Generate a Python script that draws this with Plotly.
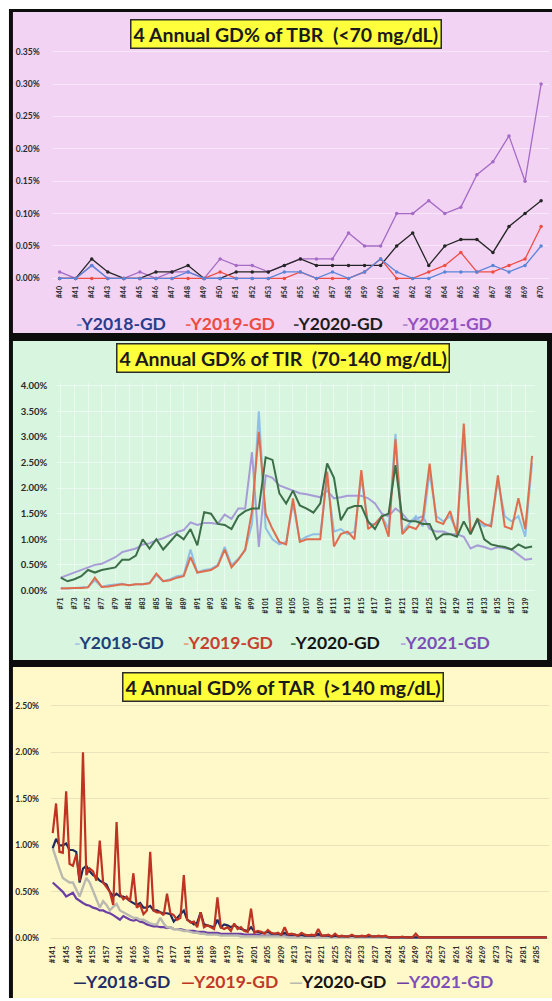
import plotly.graph_objects as go

W, H = 552, 1001
FONT = "Lato"

# ---------------- Panel 1: TBR (<70 mg/dL) ----------------
tbr_cats = ["#%d" % i for i in range(40, 71)]
tbr_2018 = [0.00, 0.00, 0.02, 0.00, 0.00, 0.00, 0.00, 0.00, 0.01, 0.00,
            0.00, 0.00, 0.00, 0.00, 0.01, 0.01, 0.00, 0.01, 0.00, 0.01,
            0.03, 0.01, 0.00, 0.00, 0.01, 0.01, 0.01, 0.02, 0.01, 0.02, 0.05]
tbr_2019 = [0.00, 0.00, 0.00, 0.00, 0.00, 0.00, 0.00, 0.00, 0.00, 0.00,
            0.01, 0.00, 0.00, 0.00, 0.00, 0.01, 0.00, 0.00, 0.00, 0.01,
            0.03, 0.00, 0.00, 0.01, 0.02, 0.04, 0.01, 0.01, 0.02, 0.03, 0.08]
tbr_2020 = [0.00, 0.00, 0.03, 0.01, 0.00, 0.00, 0.01, 0.01, 0.02, 0.00,
            0.00, 0.01, 0.01, 0.01, 0.02, 0.03, 0.02, 0.02, 0.02, 0.02,
            0.02, 0.05, 0.07, 0.02, 0.05, 0.06, 0.06, 0.04, 0.08, 0.10, 0.12]
tbr_2021 = [0.01, 0.00, 0.02, 0.00, 0.00, 0.01, 0.00, 0.01, 0.01, 0.00,
            0.03, 0.02, 0.02, 0.01, 0.02, 0.03, 0.03, 0.03, 0.07, 0.05,
            0.05, 0.10, 0.10, 0.12, 0.10, 0.11, 0.16, 0.18, 0.22, 0.15, 0.30]
tbr_ticks = [0.00, 0.05, 0.10, 0.15, 0.20, 0.25, 0.30, 0.35]

# ---------------- Panel 2: TIR (70-140 mg/dL) ----------------
tir_cats = ["#%d" % i for i in range(71, 141)]
tir_2018 = [0.05, 0.04, 0.05, 0.06, 0.07, 0.20, 0.07, 0.10, 0.12, 0.13,
            0.10, 0.12, 0.12, 0.15, 0.30, 0.18, 0.22, 0.28, 0.30, 0.80,
            0.35, 0.40, 0.42, 0.50, 0.85, 0.50, 0.62, 0.78, 1.30, 3.50,
            1.22, 1.00, 0.90, 0.95, 1.70, 0.98, 1.05, 1.10, 1.10, 2.20,
            1.15, 1.20, 1.10, 1.15, 2.20, 1.30, 1.30, 1.45, 1.20, 3.06,
            1.15, 1.30, 1.45, 1.25, 2.30, 1.45, 1.35, 1.45, 1.15, 3.00,
            1.15, 1.35, 1.25, 1.30, 2.15, 1.45, 1.35, 1.45, 1.05, 2.50]
tir_2019 = [0.04, 0.05, 0.05, 0.05, 0.06, 0.25, 0.07, 0.08, 0.10, 0.12,
            0.10, 0.12, 0.12, 0.14, 0.33, 0.18, 0.20, 0.25, 0.28, 0.65,
            0.35, 0.38, 0.40, 0.48, 0.80, 0.45, 0.60, 0.80, 1.55, 3.10,
            1.50, 1.20, 0.95, 0.90, 1.80, 0.95, 1.00, 1.00, 1.00, 2.32,
            0.86, 1.10, 1.15, 1.00, 2.35, 1.20, 1.30, 1.45, 1.05, 2.95,
            1.10, 1.25, 1.20, 1.40, 2.48, 1.35, 1.30, 1.55, 1.10, 3.26,
            1.10, 1.40, 1.30, 1.25, 2.25, 1.25, 1.20, 1.80, 1.20, 2.63]
tir_2020 = [0.25, 0.18, 0.22, 0.28, 0.40, 0.35, 0.40, 0.42, 0.45, 0.60,
            0.60, 0.68, 1.00, 0.82, 1.00, 0.80, 0.95, 1.10, 1.00, 1.20,
            0.88, 1.53, 1.50, 1.30, 1.28, 1.20, 1.45, 1.55, 1.60, 1.60,
            2.60, 2.55, 1.90, 1.70, 1.95, 1.66, 1.60, 1.52, 1.70, 2.48,
            2.20, 1.37, 1.60, 1.65, 1.65, 1.35, 1.20, 1.45, 1.50, 2.45,
            1.40, 1.35, 1.35, 1.30, 1.30, 1.00, 1.10, 1.10, 1.05, 1.35,
            1.10, 1.40, 1.00, 0.90, 0.87, 0.85, 0.80, 0.90, 0.83, 0.86]
tir_2021 = [0.25, 0.30, 0.36, 0.40, 0.45, 0.50, 0.52, 0.58, 0.65, 0.75,
            0.78, 0.82, 0.90, 0.92, 0.98, 1.02, 1.08, 1.14, 1.18, 1.33,
            1.28, 1.32, 1.32, 1.30, 1.48, 1.40, 1.60, 1.60, 2.70, 0.85,
            2.25, 2.20, 2.05, 2.00, 1.95, 1.90, 1.88, 1.85, 1.82, 1.95,
            1.80, 1.82, 1.85, 1.85, 1.85, 1.80, 1.70, 1.50, 1.45, 1.60,
            1.50, 1.35, 1.40, 1.45, 1.20, 1.15, 1.15, 1.10, 1.10, 1.05,
            0.82, 0.88, 0.85, 0.80, 0.85, 0.82, 0.80, 0.70, 0.60, 0.62]
tir_ticks = [0.0, 0.5, 1.0, 1.5, 2.0, 2.5, 3.0, 3.5, 4.0]

# ---------------- Panel 3: TAR (>140 mg/dL) ----------------
tar_cats = ["#%d" % i for i in range(141, 289)]
tar_2018 = [0.97, 1.07, 1.00, 1.00, 1.02, 0.95, 0.95, 0.93, 0.60, 0.75,
            0.78, 0.72, 0.68, 0.66, 0.62, 0.60, 0.58, 0.50, 0.45, 0.48,
            0.45, 0.45, 0.43, 0.40, 0.38, 0.36, 0.38, 0.33, 0.33, 0.35,
            0.30, 0.30, 0.28, 0.27, 0.27, 0.26, 0.18, 0.22, 0.25, 0.30,
            0.20, 0.18, 0.15, 0.17, 0.28, 0.15, 0.14, 0.13, 0.12, 0.20,
            0.12, 0.15, 0.14, 0.12, 0.14, 0.12, 0.10, 0.09, 0.08, 0.12,
            0.07, 0.07, 0.06, 0.06, 0.07, 0.05, 0.05, 0.05, 0.04, 0.06,
            0.04, 0.04, 0.04, 0.03, 0.04, 0.03, 0.03, 0.03, 0.03, 0.05,
            0.03, 0.03, 0.03, 0.02, 0.03, 0.02, 0.02, 0.02, 0.02, 0.03,
            0.02, 0.02, 0.02, 0.02, 0.02, 0.02, 0.02, 0.02, 0.02, 0.02,
            0.01, 0.01, 0.01, 0.01, 0.01, 0.01, 0.01, 0.01, 0.01, 0.01,
            0.01, 0.01, 0.01, 0.01, 0.01, 0.01, 0.01, 0.01, 0.01, 0.01,
            0.01, 0.01, 0.01, 0.01, 0.01, 0.01, 0.01, 0.01, 0.01, 0.01,
            0.01, 0.01, 0.01, 0.01, 0.01, 0.01, 0.01, 0.01, 0.01, 0.01,
            0.01, 0.01, 0.01, 0.01, 0.01, 0.01, 0.01, 0.01]
tar_2019 = [1.13, 1.45, 0.93, 0.92, 1.58, 0.80, 0.78, 0.90, 0.62, 2.00,
            0.68, 0.75, 0.72, 0.62, 1.05, 0.60, 0.55, 0.50, 0.36, 1.25,
            0.48, 0.42, 0.45, 0.40, 0.70, 0.33, 0.36, 0.26, 0.30, 0.93,
            0.30, 0.28, 0.28, 0.25, 0.48, 0.27, 0.25, 0.20, 0.22, 0.68,
            0.20, 0.17, 0.18, 0.12, 0.28, 0.12, 0.14, 0.12, 0.10, 0.44,
            0.12, 0.10, 0.12, 0.08, 0.16, 0.10, 0.12, 0.08, 0.07, 0.32,
            0.06, 0.08, 0.07, 0.05, 0.09, 0.06, 0.05, 0.06, 0.04, 0.12,
            0.04, 0.05, 0.04, 0.03, 0.06, 0.04, 0.03, 0.04, 0.03, 0.10,
            0.03, 0.03, 0.04, 0.02, 0.05, 0.02, 0.03, 0.02, 0.02, 0.04,
            0.02, 0.02, 0.03, 0.02, 0.04, 0.02, 0.02, 0.03, 0.02, 0.03,
            0.01, 0.01, 0.01, 0.01, 0.02, 0.01, 0.01, 0.01, 0.05, 0.01,
            0.01, 0.01, 0.01, 0.01, 0.01, 0.01, 0.01, 0.01, 0.01, 0.01,
            0.01, 0.01, 0.01, 0.01, 0.01, 0.01, 0.01, 0.01, 0.01, 0.01,
            0.01, 0.01, 0.01, 0.01, 0.01, 0.01, 0.01, 0.01, 0.01, 0.01,
            0.01, 0.01, 0.01, 0.01, 0.01, 0.01, 0.01, 0.01]
tar_2020 = [0.97, 0.85, 0.75, 0.65, 0.62, 0.60, 0.60, 0.53, 0.45, 0.55,
            0.65, 0.60, 0.50, 0.42, 0.33, 0.40, 0.36, 0.30, 0.34, 0.37,
            0.30, 0.28, 0.26, 0.24, 0.22, 0.22, 0.20, 0.20, 0.18, 0.16,
            0.15, 0.15, 0.22, 0.16, 0.12, 0.12, 0.10, 0.10, 0.09, 0.08,
            0.08, 0.07, 0.06, 0.06, 0.05, 0.05, 0.04, 0.04, 0.04, 0.04,
            0.03, 0.03, 0.03, 0.03, 0.03, 0.03, 0.02, 0.02, 0.02, 0.02,
            0.02, 0.02, 0.02, 0.02, 0.02, 0.02, 0.02, 0.02, 0.02, 0.02,
            0.01, 0.01, 0.01, 0.01, 0.01, 0.01, 0.01, 0.01, 0.01, 0.01,
            0.01, 0.01, 0.01, 0.01, 0.01, 0.01, 0.01, 0.01, 0.01, 0.01,
            0.01, 0.01, 0.01, 0.01, 0.01, 0.01, 0.01, 0.01, 0.01, 0.01,
            0.01, 0.01, 0.01, 0.01, 0.01, 0.01, 0.01, 0.01, 0.01, 0.01,
            0.01, 0.01, 0.01, 0.01, 0.01, 0.01, 0.01, 0.01, 0.01, 0.01,
            0.01, 0.01, 0.01, 0.01, 0.01, 0.01, 0.01, 0.01, 0.01, 0.01,
            0.01, 0.01, 0.01, 0.01, 0.01, 0.01, 0.01, 0.01, 0.01, 0.01,
            0.01, 0.01, 0.01, 0.01, 0.01, 0.01, 0.01, 0.01]
tar_2021 = [0.60, 0.57, 0.53, 0.50, 0.45, 0.47, 0.49, 0.43, 0.40, 0.38,
            0.36, 0.35, 0.33, 0.32, 0.30, 0.30, 0.28, 0.27, 0.25, 0.22,
            0.20, 0.24, 0.22, 0.20, 0.19, 0.20, 0.18, 0.17, 0.15, 0.14,
            0.13, 0.13, 0.12, 0.12, 0.11, 0.12, 0.10, 0.10, 0.10, 0.09,
            0.08, 0.08, 0.08, 0.07, 0.07, 0.07, 0.06, 0.06, 0.06, 0.06,
            0.05, 0.05, 0.05, 0.05, 0.05, 0.05, 0.05, 0.04, 0.04, 0.04,
            0.04, 0.04, 0.03, 0.03, 0.03, 0.03, 0.03, 0.03, 0.03, 0.03,
            0.03, 0.03, 0.03, 0.03, 0.03, 0.03, 0.03, 0.03, 0.03, 0.03,
            0.02, 0.02, 0.02, 0.02, 0.02, 0.02, 0.02, 0.02, 0.02, 0.02,
            0.02, 0.02, 0.02, 0.02, 0.02, 0.02, 0.02, 0.02, 0.02, 0.02,
            0.01, 0.01, 0.01, 0.01, 0.01, 0.01, 0.01, 0.01, 0.01, 0.01,
            0.01, 0.01, 0.01, 0.01, 0.01, 0.01, 0.01, 0.01, 0.01, 0.01,
            0.01, 0.01, 0.01, 0.01, 0.01, 0.01, 0.01, 0.01, 0.01, 0.01,
            0.01, 0.01, 0.01, 0.01, 0.01, 0.01, 0.01, 0.01, 0.01, 0.01,
            0.01, 0.01, 0.01, 0.01, 0.01, 0.01, 0.01, 0.01]
tar_ticks = [0.0, 0.5, 1.0, 1.5, 2.0, 2.5]

series_names = ["Y2018-GD", "Y2019-GD", "Y2020-GD", "Y2021-GD"]


def px_x(v):
    return v / W


def px_y(v):
    return 1 - v / H


def pct_labels(ticks):
    return ["%.2f%%" % v for v in ticks]


fig = go.Figure()


def add_line(cats, vals, name, color, xa, ya, width, markers=False):
    fig.add_trace(go.Scatter(
        x=cats, y=vals, name=name, xaxis=xa, yaxis=ya,
        mode="lines+markers" if markers else "lines",
        line=dict(color=color, width=width),
        marker=dict(size=3.5, color=color),
        showlegend=False, hoverinfo="skip"))


# Panel 1 traces
add_line(tbr_cats, tbr_2021, series_names[3], "#A46CC4", "x", "y", 1.3, True)
add_line(tbr_cats, tbr_2020, series_names[2], "#262626", "x", "y", 1.3, True)
add_line(tbr_cats, tbr_2019, series_names[1], "#EF4E45", "x", "y", 1.3, True)
add_line(tbr_cats, tbr_2018, series_names[0], "#5B85D8", "x", "y", 1.3, True)

# Panel 2 traces
add_line(tir_cats, tir_2021, series_names[3], "#A79CD6", "x2", "y2", 2.0)
add_line(tir_cats, tir_2018, series_names[0], "#8FBFE6", "x2", "y2", 2.0)
add_line(tir_cats, tir_2019, series_names[1], "#DF6E4E", "x2", "y2", 2.0)
add_line(tir_cats, tir_2020, series_names[2], "#3C6E48", "x2", "y2", 2.0)

# Panel 3 traces
add_line(tar_cats, tar_2021, series_names[3], "#6B3FA3", "x3", "y3", 2.2)
add_line(tar_cats, tar_2020, series_names[2], "#B9B9B0", "x3", "y3", 2.4)
add_line(tar_cats, tar_2018, series_names[0], "#1E2B5E", "x3", "y3", 2.2)
add_line(tar_cats, tar_2019, series_names[1], "#BE3322", "x3", "y3", 2.2)


def ydomain(bottom_px, top_px):
    return [px_y(bottom_px), px_y(top_px)]


def tfont(s):
    return dict(family=FONT, size=s, color="#2a2a2a", weight="bold")


fig.update_layout(
    xaxis=dict(domain=[px_x(48.9), px_x(549.1)], anchor="y", type="category",
               categoryorder="array", categoryarray=tbr_cats,
               range=[-0.5, len(tbr_cats) - 0.5], tickangle=-90,
               tickfont=tfont(7), showgrid=False, zeroline=False,
               showline=False, ticks="", ticklabelstandoff=2),
    yaxis=dict(domain=ydomain(280.3, 45.7), anchor="x",
               range=[-0.005, 0.355], tickvals=tbr_ticks,
               ticktext=pct_labels(tbr_ticks), tickfont=tfont(8.5), showgrid=True,
               gridcolor="rgba(255,255,255,0.45)", gridwidth=1,
               zeroline=False, showline=False, ticks="", ticklabelstandoff=11),
    xaxis2=dict(domain=[px_x(54.6), px_x(535.4)], anchor="y2", type="category",
                categoryorder="array", categoryarray=tir_cats,
                range=[-0.5, len(tir_cats) - 0.5], tickangle=-90,
                tickvals=tir_cats[::2], ticktext=tir_cats[::2],
                tickfont=tfont(7), showgrid=True,
                gridcolor="rgba(255,255,255,0.5)", gridwidth=1,
                zeroline=False, showline=False, ticks="", ticklabelstandoff=2),
    yaxis2=dict(domain=ydomain(593.6, 382.4), anchor="x2",
                range=[-0.05, 4.05], tickvals=tir_ticks,
                ticktext=pct_labels(tir_ticks), tickfont=tfont(9.5), showgrid=True,
                gridcolor="rgba(255,255,255,0.5)", gridwidth=1,
                zeroline=False, showline=False, ticks="", ticklabelstandoff=9),
    xaxis3=dict(domain=[px_x(48.3), px_x(548.5)], anchor="y3", type="category",
                categoryorder="array", categoryarray=tar_cats,
                range=[-0.5, len(tar_cats) - 0.5], tickangle=-90,
                tickvals=tar_cats[::4], ticktext=tar_cats[::4],
                tickfont=tfont(7.5), showgrid=False, zeroline=False,
                showline=False, ticks="", ticklabelstandoff=3),
    yaxis3=dict(domain=ydomain(942.9, 705.1), anchor="x3",
                range=[-0.02, 2.52], tickvals=tar_ticks,
                ticktext=pct_labels(tar_ticks), tickfont=tfont(8.5), showgrid=True,
                gridcolor="rgba(215,208,175,0.55)", gridwidth=1,
                zeroline=False, showline=False, ticks="", ticklabelstandoff=11),
)

shapes = [
    dict(type="rect", xref="paper", yref="paper", x0=px_x(6), x1=1,
         y0=0, y1=px_y(6), fillcolor="#0d0d0d", line=dict(width=0), layer="below"),
    dict(type="rect", xref="paper", yref="paper", x0=px_x(10), x1=1,
         y0=px_y(332), y1=px_y(9), fillcolor="#F2D3F3", line=dict(width=0), layer="below"),
    dict(type="rect", xref="paper", yref="paper", x0=px_x(10), x1=px_x(547),
         y0=px_y(661), y1=px_y(340), fillcolor="#D7F5DF", line=dict(width=0), layer="below"),
    dict(type="rect", xref="paper", yref="paper", x0=px_x(10), x1=1,
         y0=0, y1=px_y(668), fillcolor="#FFF9C9", line=dict(width=0), layer="below"),
]

titles = [
    ("4 Annual GD% of TBR&nbsp; (&lt;70 mg/dL)", 284.5, 31),
    ("4 Annual GD% of TIR&nbsp; (70-140 mg/dL)", 282, 357),
    ("4 Annual GD% of TAR&nbsp; (&gt;140 mg/dL)", 282, 688),
]
annotations = []
for text, cx, cy in titles:
    annotations.append(dict(
        xref="paper", yref="paper", x=px_x(cx), y=px_y(cy), text="<b>%s</b>" % text,
        showarrow=False, xanchor="center", yanchor="middle",
        font=dict(family=FONT, size=19.5, color="#1a1a1a"),
        bgcolor="#FFFF3C", bordercolor="#2b2b2b", borderwidth=1.5, borderpad=2))

legend_rows = [
    (322, 17.5, "-", [(119, "#6F95DC", "#283D8C"), (228, "#F0685F", "#EE4A3E"),
                      (337, "#444444", "#1c1c1c"), (446, "#B58AD0", "#9450C0")]),
    (643, 17.5, "-", [(117, "#A9C9E8", "#1F3F78"), (226, "#E8A286", "#C8402E"),
                      (334, "#3F7A50", "#141414"), (444, "#B3A8DC", "#7C4FB4")]),
    (984, 17.5, "\u2014", [(119, "#1E2B5E", "#1F2D6B"), (228, "#BE3322", "#C0392B"),
                            (336, "#B9B9B0", "#141414"), (444, "#6B3FA3", "#7D4FB8")]),
]
for cy, size, dash, items in legend_rows:
    for (cx, dcol, tcol), name in zip(items, series_names):
        annotations.append(dict(
            xref="paper", yref="paper", x=px_x(cx), y=px_y(cy),
            text='<b><span style="color:%s">%s</span><span style="color:%s">%s</span></b>'
                 % (dcol, dash, tcol, name),
            showarrow=False, xanchor="center", yanchor="middle",
            font=dict(family=FONT, size=size)))

fig.update_layout(
    width=W, height=H, autosize=False,
    margin=dict(l=0, r=0, t=0, b=0, pad=0),
    paper_bgcolor="#ffffff", plot_bgcolor="rgba(0,0,0,0)",
    shapes=shapes, annotations=annotations, showlegend=False,
    font=dict(family=FONT),
)

fig.write_html(
    "out.html",
    config={"displayModeBar": False},
    post_script="document.body.style.margin='0';document.body.style.overflow='hidden';",
)
